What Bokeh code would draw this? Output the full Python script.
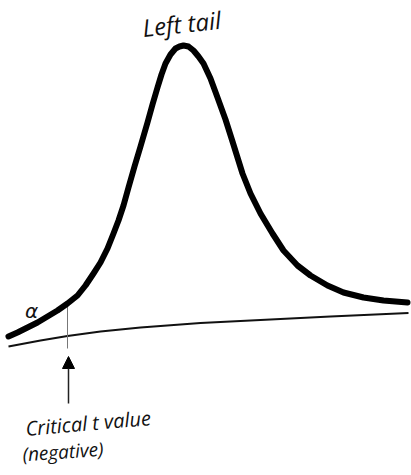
from bokeh.plotting import figure
from bokeh.models import Range1d, Arrow, NormalHead
from bokeh.core.properties import value
from bokeh.embed import file_html
from bokeh.resources import INLINE
import math

# Curve (pixel coordinates, y downward)
curve_x = [8, 17, 27, 37, 47, 57, 67, 77, 85, 93, 100, 107, 113, 118, 123, 128, 134, 140,
           147, 152, 157, 161, 165, 170, 175, 179, 183, 188, 193, 198, 203, 210, 217, 225,
           232, 242, 250, 260, 272, 283, 297, 310, 327, 343, 363, 383, 407]
curve_y = [336, 332, 327, 322, 316, 310, 303, 295, 285, 273, 262, 248, 233, 220, 205, 187, 166, 146,
           122, 104, 87, 74, 63, 54, 48, 46, 45, 46, 50, 56, 63, 78, 97, 119,
           141, 173, 193, 213, 233, 250, 265, 275, 285, 292, 297, 300, 302]

# Baseline (slanted axis)
base_x = [8, 40, 67, 100, 140, 200, 260, 330, 408]
base_y = [346, 340, 335.5, 331, 327, 322.5, 319.5, 316, 312.5]

# Critical t value marker
crit_x = 67
crit_top = 303
crit_bottom = 348

# Labels
title_text = "Left tail"
alpha_text = "α"
crit_label_1 = "Critical t value"
crit_label_2 = "(negative)"

p = figure(width=411, height=472, output_backend="svg", toolbar_location=None,
           x_range=Range1d(0, 411), y_range=Range1d(472, 0), min_border=0)
p.axis.visible = False
p.grid.visible = False
p.outline_line_color = None
p.background_fill_color = "white"
p.border_fill_color = "white"

p.line(base_x, base_y, line_color="#111111", line_width=2, line_join="round")
p.segment(x0=[crit_x], y0=[crit_top], x1=[crit_x], y1=[crit_bottom],
          line_color="#777777", line_width=1)
p.line(curve_x, curve_y, line_color="black", line_width=6, line_join="round", line_cap="round")

p.add_layout(Arrow(end=NormalHead(size=12, fill_color="black", line_color="black"),
                   x_start=68, y_start=403, x_end=68, y_end=356,
                   line_color="#222222", line_width=1.5))

font = value("Open Sans")
p.text(x=[142], y=[27], text=[title_text], angle=[math.radians(6)], text_font=font,
       text_font_style="italic", text_font_size="24px", text_color="#111111",
       text_align="left", text_baseline="alphabetic")
p.text(x=[31], y=[310], text=[alpha_text], text_font=value("DejaVu Sans"),
       text_font_style="italic", text_font_size="20px", text_color="#111111",
       text_align="center", text_baseline="middle")
p.text(x=[25], y=[428], text=[crit_label_1], angle=[math.radians(5)], text_font=font,
       text_font_style="italic", text_font_size="20px", text_color="#111111",
       text_align="left", text_baseline="alphabetic")
p.text(x=[22], y=[454], text=[crit_label_2], angle=[math.radians(4)], text_font=font,
       text_font_style="italic", text_font_size="19px", text_color="#111111",
       text_align="left", text_baseline="alphabetic")

open("out.html", "w").write(file_html(p, INLINE))
